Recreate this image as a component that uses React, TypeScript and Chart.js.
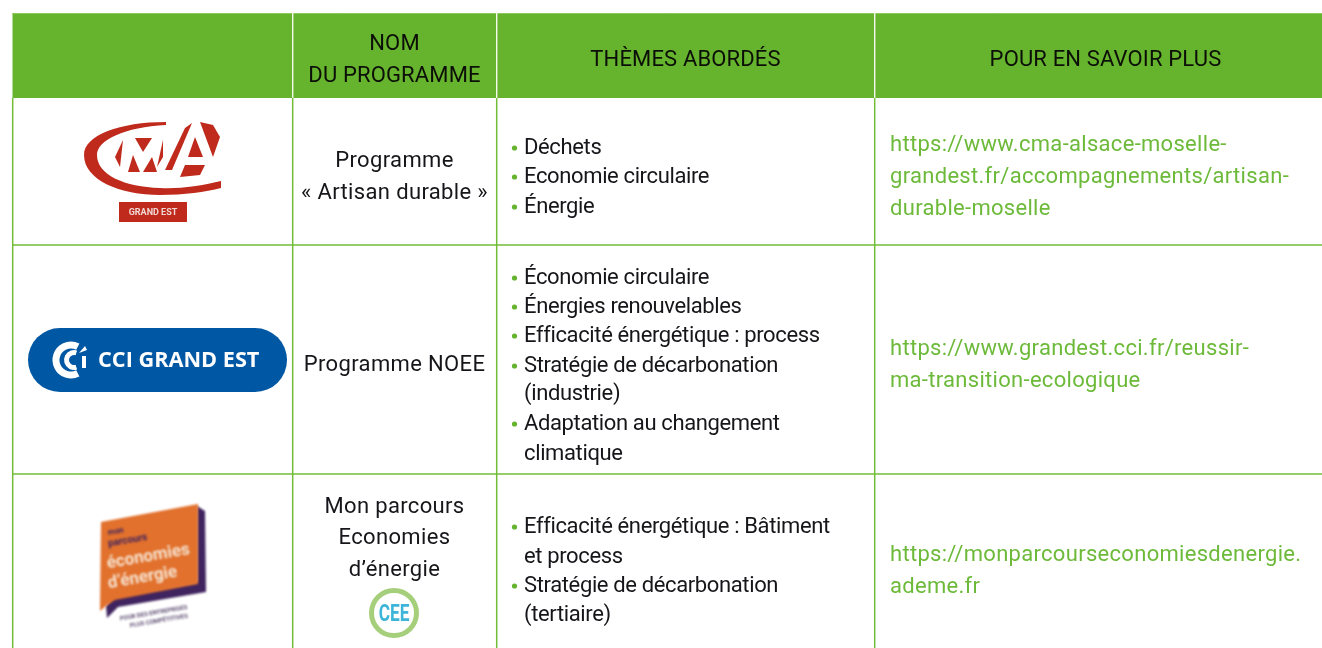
import React, { useEffect, useRef } from "react";
import { Chart, registerables } from "chart.js";

Chart.register(...registerables);

// Table content
const headers = [["NOM", "DU PROGRAMME"], ["THÈMES ABORDÉS"], ["POUR EN SAVOIR PLUS"]];
const programmeLines = [
  ["Programme", "« Artisan durable »"],
  ["Programme NOEE"],
  ["Mon parcours", "Economies", "d’énergie"],
];
const themeRow1 = ["•Déchets", "•Economie circulaire", "•Énergie"];
const themeRow2 = [
  "•Économie circulaire",
  "•Énergies renouvelables",
  "•Efficacité énergétique : process",
  "•Stratégie de décarbonation",
  "(industrie)",
  "•Adaptation au changement",
  "climatique",
];
const themeRow3 = [
  "•Efficacité énergétique : Bâtiment",
  "et process",
  "•Stratégie de décarbonation",
  "(tertiaire)",
];
const linkRow1 = [
  "https://www.cma-alsace-moselle-",
  "grandest.fr/accompagnements/artisan-",
  "durable-moselle",
];
const linkRow2 = ["https://www.grandest.cci.fr/reussir-", "ma-transition-ecologique"];
const linkRow3 = ["https://monparcourseconomiesdenergie.", "ademe.fr"];

// Table geometry, in the units of the two hidden linear scales
const columnEdges = [12.7, 292.7, 496.7, 874.7, 1322];
const rowEdges = [13, 98, 245, 474, 648];
const programmeY = [[161, 193], [365], [507, 538, 570]];
const themeY = [[148, 177, 207], [278, 307, 336, 366, 394, 424, 454], [527, 557, 586, 615]];
const linkY = [[145, 177, 209], [349, 381], [555, 587]];

const GREEN = "#66b32e";
const LINE = "#72bd38";
const FONT = "Roboto, sans-serif";

const tablePlugin = {
  id: "table",
  afterDraw(chart: any) {
    const { ctx } = chart;
    const X = (v: number) => chart.scales.x.getPixelForValue(v);
    const Y = (v: number) => chart.scales.y.getPixelForValue(v);

    ctx.save();
    ctx.fillStyle = "#fff";
    ctx.fillRect(0, 0, chart.width, chart.height);

    // header band
    ctx.fillStyle = GREEN;
    ctx.fillRect(X(12.5), Y(rowEdges[0]), X(1322) - X(12.5), Y(rowEdges[1]) - Y(rowEdges[0]));
    ctx.strokeStyle = "#8cc95c";
    ctx.lineWidth = 1;
    ctx.beginPath();
    ctx.moveTo(X(12.5), Y(rowEdges[0]) + 0.5);
    ctx.lineTo(X(1322), Y(rowEdges[0]) + 0.5);
    ctx.stroke();

    // grid
    ctx.strokeStyle = LINE;
    ctx.lineWidth = 1.5;
    ctx.beginPath();
    for (const yv of [rowEdges[2], rowEdges[3]]) {
      ctx.moveTo(X(12), Y(yv));
      ctx.lineTo(X(1322), Y(yv));
    }
    for (const xv of columnEdges.slice(0, 4)) {
      ctx.moveTo(X(xv), Y(rowEdges[1]));
      ctx.lineTo(X(xv), Y(648));
    }
    ctx.stroke();
    ctx.strokeStyle = "#f4faee";
    ctx.lineWidth = 1.4;
    ctx.beginPath();
    for (const xv of columnEdges.slice(1, 4)) {
      ctx.moveTo(X(xv), Y(rowEdges[0]));
      ctx.lineTo(X(xv), Y(rowEdges[1]));
    }
    ctx.stroke();

    const setFont = (spacing: string) => {
      ctx.font = `400 22px ${FONT}`;
      ctx.letterSpacing = spacing;
      ctx.textBaseline = "middle";
    };

    // header text
    setFont("0.15px");
    ctx.fillStyle = "#0c0f08";
    ctx.textAlign = "center";
    ctx.fillText(headers[0][0], X(394.5), Y(44));
    ctx.fillText(headers[0][1], X(394.5), Y(76));
    ctx.fillText(headers[1][0], X(685.5), Y(60));
    ctx.fillText(headers[2][0], X(1105.5), Y(60));

    // programme column
    setFont("0.35px");
    ctx.fillStyle = "#16161a";
    programmeLines.forEach((lines, r) =>
      lines.forEach((t, i) => ctx.fillText(t, X(394.5), Y(programmeY[r][i])))
    );

    // themes column
    setFont("-0.37px");
    ctx.textAlign = "left";
    [themeRow1, themeRow2, themeRow3].forEach((lines, r) =>
      lines.forEach((t, i) => {
        const bullet = t.startsWith("•");
        const y = Y(themeY[r][i]);
        if (bullet) {
          ctx.fillStyle = GREEN;
          ctx.beginPath();
          ctx.arc(X(514.5), y, 2.6, 0, Math.PI * 2);
          ctx.fill();
        }
        ctx.fillStyle = "#16161a";
        ctx.fillText(bullet ? t.slice(1) : t, X(524), y);
      })
    );

    // links column
    setFont("0.3px");
    ctx.fillStyle = "#6dba3a";
    [linkRow1, linkRow2, linkRow3].forEach((lines, r) =>
      lines.forEach((t, i) => ctx.fillText(t, X(890), Y(linkY[r][i])))
    );

    ctx.letterSpacing = "0px";
    drawCma(ctx, X, Y);
    drawCci(ctx, X, Y);
    drawParcours(ctx, X, Y);
    drawCee(ctx, X, Y);
    ctx.restore();
  },
};

function drawCma(ctx: any, X: any, Y: any) {
  ctx.save();
  ctx.filter = "blur(0.7px)";
  ctx.fillStyle = "#bf2a1c";
  // swoosh
  ctx.beginPath();
  ctx.moveTo(X(166), Y(122));
  ctx.bezierCurveTo(X(120), Y(122), X(84), Y(135), X(84), Y(155));
  ctx.bezierCurveTo(X(84), Y(180), X(120), Y(195), X(160), Y(195));
  ctx.bezierCurveTo(X(185), Y(195), X(205), Y(192), X(221), Y(188));
  ctx.lineTo(X(221), Y(181));
  ctx.bezierCurveTo(X(200), Y(186), X(180), Y(189), X(160), Y(188));
  ctx.bezierCurveTo(X(125), Y(187), X(97), Y(175), X(97), Y(155));
  ctx.bezierCurveTo(X(97), Y(140), X(125), Y(127), X(166), Y(125));
  ctx.closePath();
  ctx.fill();
  // M and A, cut into wedges
  const polys = [
    [[115, 157], [123, 140], [120, 167]],
    [[135, 138], [152, 138], [143, 152]],
    [[128, 172], [133, 155], [140, 172]],
    [[143, 172], [152, 157], [157, 172]],
    [[157, 167], [163, 140], [163, 157]],
    [[165, 170], [185, 128], [192, 123], [172, 170]],
    [[188, 157], [195, 137], [203, 157]],
    [[180, 177], [185, 165], [205, 165], [200, 175]],
    [[200, 122], [213, 125], [220, 137], [213, 157]],
  ];
  for (const p of polys) {
    ctx.beginPath();
    p.forEach(([a, b], i) => (i ? ctx.lineTo(X(a), Y(b)) : ctx.moveTo(X(a), Y(b))));
    ctx.closePath();
    ctx.fill();
  }
  ctx.fillRect(X(119), Y(202), 68, 20);
  ctx.fillStyle = "#f0d8d4";
  ctx.font = "700 9px Roboto, sans-serif";
  ctx.textAlign = "center";
  ctx.textBaseline = "middle";
  ctx.fillText("GRAND EST", X(153), Y(213));
  ctx.restore();
}

function drawCci(ctx: any, X: any, Y: any) {
  ctx.save();
  ctx.fillStyle = "#0057a3";
  ctx.beginPath();
  ctx.roundRect(X(28), Y(328), 259, 64, 32);
  ctx.fill();
  ctx.strokeStyle = "#fff";
  ctx.lineCap = "butt";
  ctx.lineWidth = 7;
  ctx.beginPath();
  ctx.arc(X(71), Y(360), 15, Math.PI * 0.35, Math.PI * 1.65);
  ctx.stroke();
  ctx.lineWidth = 5;
  ctx.beginPath();
  ctx.arc(X(74), Y(360), 7.5, Math.PI * 0.4, Math.PI * 1.6);
  ctx.stroke();
  ctx.fillStyle = "#fff";
  ctx.fillRect(X(82), Y(356), 4, 12);
  ctx.beginPath();
  ctx.moveTo(X(79), Y(353));
  ctx.lineTo(X(85), Y(346));
  ctx.lineTo(X(87), Y(350));
  ctx.closePath();
  ctx.fill();
  ctx.font = "700 21.7px 'Open Sans', sans-serif";
  ctx.textAlign = "left";
  ctx.textBaseline = "middle";
  ctx.fillText("CCI GRAND EST", X(98), Y(361));
  ctx.restore();
}

function drawParcours(ctx: any, X: any, Y: any) {
  ctx.save();
  ctx.filter = "blur(0.9px)";
  const poly = (pts: number[][], c: string) => {
    ctx.fillStyle = c;
    ctx.beginPath();
    pts.forEach(([a, b], i) => (i ? ctx.lineTo(X(a), Y(b)) : ctx.moveTo(X(a), Y(b))));
    ctx.closePath();
    ctx.fill();
  };
  poly([[197, 506], [205, 511], [206, 592], [118, 607], [107, 618], [106, 606], [114, 596], [197, 582]], "#40245f");
  poly([[101, 522], [198, 504], [198, 584], [115, 600], [106, 606], [100, 611]], "#e2712d");
  ctx.textAlign = "left";
  ctx.textBaseline = "middle";
  const rot = (t: string, x: number, y: number, font: string, c: string) => {
    ctx.save();
    ctx.translate(X(x), Y(y));
    ctx.rotate(-0.17);
    ctx.font = font;
    ctx.fillStyle = c;
    ctx.fillText(t, 0, 0);
    ctx.restore();
  };
  rot("mon", 108, 533, "700 8px Roboto", "#40245f");
  rot("parcours", 108, 544, "700 10px Roboto", "#40245f");
  rot("économies", 107, 564, "700 17px Roboto", "#f6e3d0");
  rot("d’énergie", 108, 584, "700 17px Roboto", "#f6e3d0");
  rot("POUR DES ENTREPRISES", 120, 619, "700 6px Roboto", "#5a4a70");
  rot("PLUS COMPÉTITIVES", 130, 626, "700 6px Roboto", "#5a4a70");
  ctx.restore();
}

function drawCee(ctx: any, X: any, Y: any) {
  ctx.save();
  ctx.filter = "blur(0.6px)";
  ctx.strokeStyle = "#a6cf7c";
  ctx.lineWidth = 5;
  ctx.beginPath();
  ctx.arc(X(394), Y(613), 22.5, 0, Math.PI * 2);
  ctx.stroke();
  ctx.fillStyle = "#3db5d8";
  ctx.font = "700 24px Roboto, sans-serif";
  ctx.textAlign = "center";
  ctx.textBaseline = "middle";
  ctx.translate(X(394), Y(615));
  ctx.scale(0.72, 1);
  ctx.fillText("CEE", 0, 0);
  ctx.restore();
}

export default function App() {
  const ref = useRef<HTMLCanvasElement>(null);
  useEffect(() => {
    const chart = new Chart(ref.current!, {
      type: "scatter",
      data: { datasets: [{ data: [] }] },
      options: {
        animation: false,
        responsive: false,
        layout: { padding: 0 },
        plugins: { legend: { display: false }, tooltip: { enabled: false }, title: { display: false } },
        scales: {
          x: { type: "linear", min: 0, max: 1322, display: false },
          y: { type: "linear", min: 0, max: 648, reverse: true, display: false },
        },
      },
      plugins: [tablePlugin],
    });
    return () => chart.destroy();
  }, []);
  return (
    <canvas
      ref={ref}
      width={1322}
      height={648}
      style={{ position: "fixed", left: 0, top: 0, width: 1322, height: 648, display: "block" }}
    />
  );
}
